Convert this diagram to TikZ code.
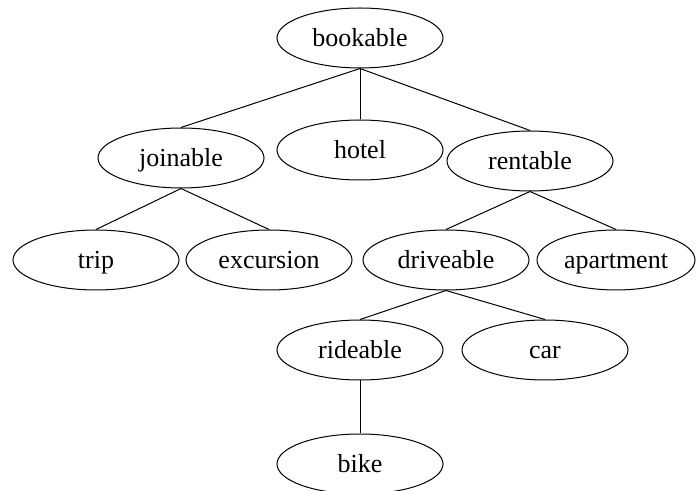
\documentclass[tikz,border=0pt]{standalone}
\usepackage{fontspec}
\setmainfont{Liberation Serif}
\usetikzlibrary{shapes,positioning}

\begin{document}
\begin{tikzpicture}[x=0.5pt, y=-0.5pt, every node/.style={font=\fontsize{13}{15}\selectfont},
	concept/.style={draw, ellipse, line width=0.5pt, minimum width=83pt, minimum height=30pt, inner sep=0pt, text height=10pt, text depth=1pt},
	isa/.style={draw, line width=0.5pt}]
				\useasboundingbox (0,0) rectangle (696,491);
				\node[concept] (bookable) at (360,38) {bookable};
				\node[concept] (joinable) at (181,158) {joinable};
				\node[concept] (hotel) at (360,150) {hotel};
				\node[concept] (rentable) at (530,161) {rentable};
				\node[concept] (trip) at (96,260) {trip};
				\node[concept] (excursion) at (269,260) {excursion};
				\node[concept] (driveable) at (446,260) {driveable};
				\node[concept, minimum width=79pt] (apartment) at (616,260) {apartment};
				\node[concept] (rideable) at (360,350) {rideable};
				\node[concept] (car) at (545,350) {car};
				\node[concept] (bike) at (360,464) {bike};
				\draw[isa] (bookable.south) -- (joinable.north);
				\draw[isa] (bookable.south) -- (hotel.north);
				\draw[isa] (bookable.south) -- (rentable.north);
				\draw[isa] (joinable.south) -- (trip.north);
				\draw[isa] (joinable.south) -- (excursion.north);
				\draw[isa] (rentable.south) -- (driveable.north);
				\draw[isa] (rentable.south) -- (apartment.north);
				\draw[isa] (driveable.south) -- (rideable.north);
				\draw[isa] (driveable.south) -- (car.north);
				\draw[isa] (rideable.south) -- (bike.north);
			\end{tikzpicture}
\end{document}
